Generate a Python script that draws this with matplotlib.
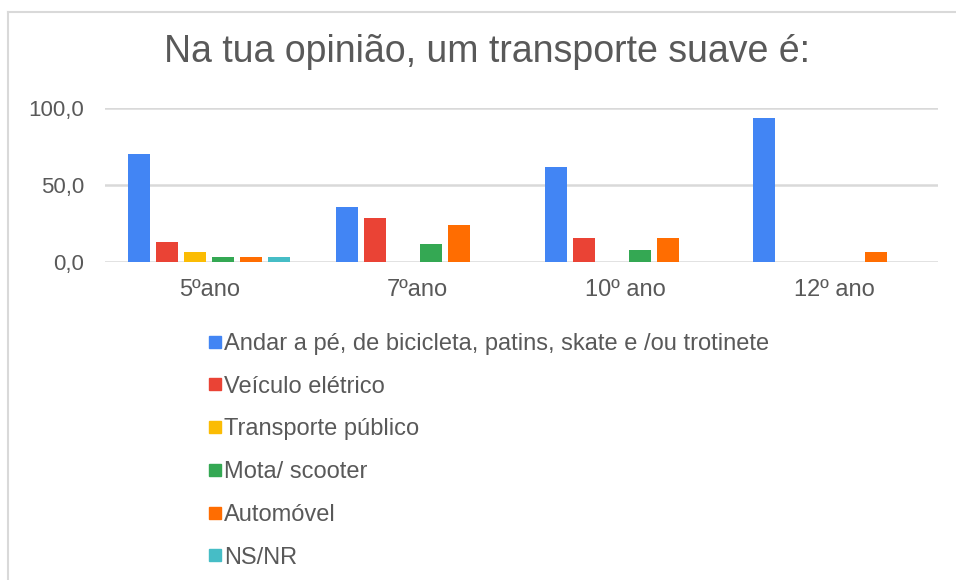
import numpy as np
import matplotlib
matplotlib.use("Agg")
from matplotlib import pyplot as plt
from matplotlib.lines import Line2D

plt.rcParams['font.family'] = ['Liberation Sans', 'DejaVu Sans']

# dados
anos = ['5ºano', '7ºano', '10º ano', '12º ano']
series = ['Andar a pé, de bicicleta, patins, skate e /ou trotinete',
          'Veículo elétrico', 'Transporte público', 'Mota/ scooter',
          'Automóvel', 'NS/NR']
andar = [70.0, 35.7, 61.5, 93.3]
eletrico = [13.3, 28.6, 15.4, 0.0]
publico = [6.7, 0.0, 0.0, 0.0]
mota = [3.3, 11.9, 7.7, 0.0]
automovel = [3.3, 23.8, 15.4, 6.7]
nsnr = [3.3, 0.0, 0.0, 0.0]
valores = [andar, eletrico, publico, mota, automovel, nsnr]
cores = ['#4285F4', '#EA4335', '#FBBC04', '#34A853', '#FF6D01', '#46BDC6']

W, H = 956, 580
fig = plt.figure(figsize=(W / 100, H / 100), dpi=100)
ax = fig.add_axes([105 / W, 1 - 262 / H, (938 - 105) / W, (262 - 108) / H])

x = np.arange(len(anos))
passo = 28 / 208.25
largura = 22 / 208.25
for i, (vals, cor) in enumerate(zip(valores, cores)):
    ax.bar(x + (i - 2.5) * passo, vals, largura, color=cor,
           edgecolor='none', zorder=3)

ax.set_xlim(-0.5, 3.5)
ax.set_ylim(0, 100)
ax.set_yticks([0, 50, 100])
ax.set_yticklabels(['0,0', '50,0', '100,0'])
ax.set_xticks(x)
ax.set_xticklabels(anos)
ax.tick_params(axis='both', length=0, colors='#595959')
ax.tick_params(axis='y', pad=15, labelsize=16)
ax.tick_params(axis='x', pad=12, labelsize=17)
ax.grid(axis='y', color='#d9d9d9', linewidth=1.8, zorder=0)
for s in ax.spines.values():
    s.set_visible(False)

fig.text(487 / W, 1 - 52 / H, 'Na tua opinião, um transporte suave é:',
         ha='center', va='center', fontsize=27, color='#595959')

# legenda
handles = [Line2D([], [], marker='s', linestyle='none', markersize=9,
                  color=c) for c in cores]
fig.legend(handles, series, loc='upper left',
           bbox_to_anchor=(197 / W, 1 - 321 / H), frameon=False,
           fontsize=17, labelcolor='#595959', handlelength=0.55,
           handletextpad=0.1, labelspacing=0.88, borderpad=0)

# moldura
fig.add_artist(Line2D([8 / W, 8 / W], [0, 1 - 12 / H], color='#d9d9d9',
                      linewidth=1.5, transform=fig.transFigure))
fig.add_artist(Line2D([8 / W, 1], [1 - 12 / H, 1 - 12 / H], color='#d9d9d9',
                      linewidth=1.5, transform=fig.transFigure))

fig.savefig('out.png', dpi=100)
